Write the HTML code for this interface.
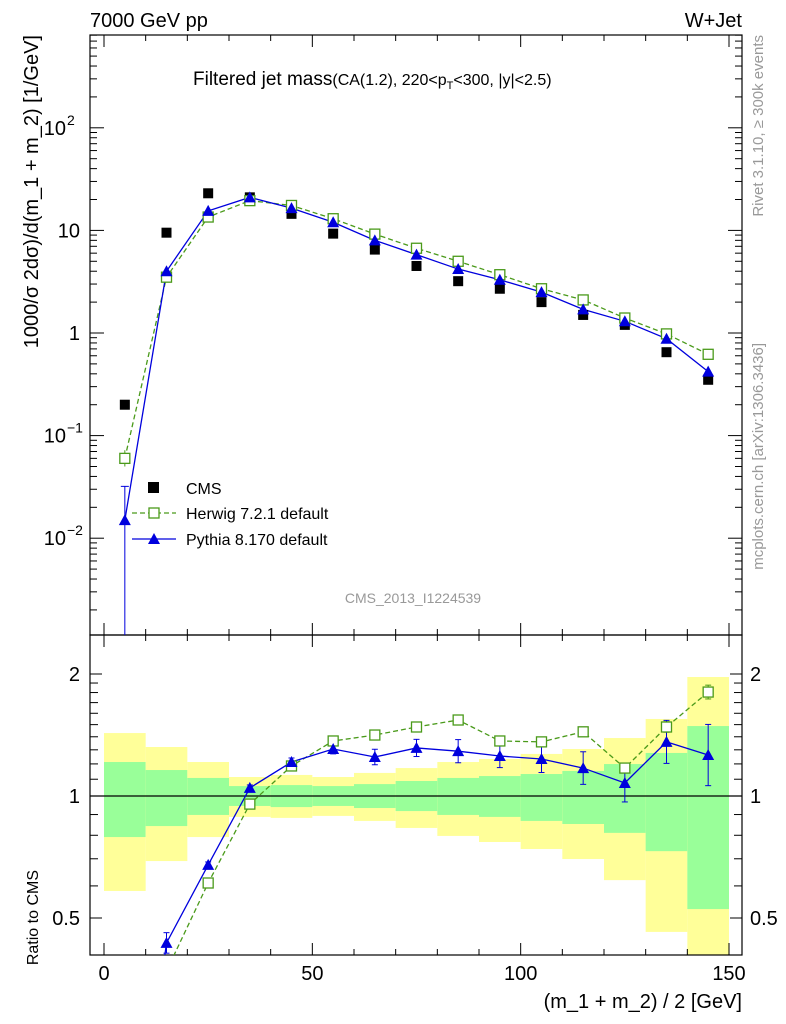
<!DOCTYPE html>
<html><head><meta charset="utf-8"><style>
html,body{margin:0;padding:0;background:#fff;overflow:hidden;width:786px;height:1024px}
svg{display:block}
svg text{font-family:"Liberation Sans",sans-serif}
</style></head><body>
<svg id="c" width="786" height="1024" viewBox="0 0 786 1024"></svg>
<script>
const xs=[5,15,25,35,45,55,65,75,85,95,105,115,125,135,145];
const cms=[0.2,9.5,23,21,14.5,9.3,6.5,4.5,3.2,2.7,2.0,1.5,1.2,0.65,0.35];
const herwig=[0.06,3.5,13.5,19.5,17.5,13,9.2,6.7,5,3.7,2.7,2.1,1.4,0.98,0.62];
const pythia=[0.015,4,15.5,21,16.5,12,8,5.8,4.2,3.3,2.5,1.7,1.3,0.88,0.42];
const herwigRatio=[0.3,0.37,0.61,0.955,1.186,1.367,1.414,1.48,1.54,1.367,1.36,1.44,1.172,1.48,1.805];
const herwigRatioErr=[0,0,0.01,0.01,0.01,0.01,0.01,0.01,0.01,0.01,0.01,0.02,0.02,0.03,0.04];
const pythiaRatio=[0.075,0.434,0.676,1.047,1.213,1.306,1.248,1.314,1.29,1.255,1.234,1.172,1.077,1.36,1.262];
const pythiaRatioErr=[0,0.06,0.017,0.017,0.023,0.028,0.045,0.05,0.068,0.068,0.08,0.097,0.114,0.13,0.19];
const yelHi=[1.43,1.321,1.213,1.114,1.127,1.114,1.14,1.172,1.213,1.234,1.27,1.306,1.39,1.549,1.966];
const yelLo=[0.583,0.691,0.792,0.888,0.883,0.893,0.868,0.834,0.797,0.77,0.74,0.699,0.62,0.462,0.3];
const grnHi=[1.213,1.159,1.108,1.058,1.064,1.058,1.07,1.089,1.108,1.12,1.133,1.153,1.199,1.277,1.488];
const grnLo=[0.792,0.843,0.898,0.945,0.939,0.945,0.934,0.918,0.898,0.888,0.868,0.853,0.811,0.731,0.526];
const xTicks=[0,50,100,150];
const yTicks=[{v:0.01,l:"10",e:"−2"},{v:0.1,l:"10",e:"−1"},{v:1,l:"1"},{v:10,l:"10"},{v:100,l:"10",e:"2"}];
const rTicks=[0.5,1,2];

const S=document.getElementById('c');const NS="http://www.w3.org/2000/svg";
function el(t,a,p){const e=document.createElementNS(NS,t);for(const k in a)e.setAttribute(k,a[k]);(p||S).appendChild(e);return e;}
const L=90,R=742,T=35,M=635,B=955;
const X=v=>104+v*625/150;
const Y=v=>333-Math.log10(v)*102.6;
const YR=v=>796-Math.log2(v)*122;
const cy=(y,a,b)=>Math.max(a,Math.min(b,y));

const gb=el('g',{});
xs.forEach((x,i)=>{
 const r1=el('rect',{x:X(x-5),y:cy(YR(yelHi[i]),M,B),width:X(10)-X(0),height:cy(YR(yelLo[i]),M,B)-cy(YR(yelHi[i]),M,B),fill:'#ffff99'},gb);
 
 const r2=el('rect',{x:X(x-5),y:cy(YR(grnHi[i]),M,B),width:X(10)-X(0),height:cy(YR(grnLo[i]),M,B)-cy(YR(grnHi[i]),M,B),fill:'#99ff99'},gb);
 
});
el('line',{x1:L,x2:R,y1:YR(1),y2:YR(1),stroke:'#000','stroke-width':1.2});

const f1=el('rect',{x:L,y:T,width:R-L,height:M-T,fill:'none',stroke:'#000','stroke-width':1.2});

const f2=el('rect',{x:L,y:M,width:R-L,height:B-M,fill:'none',stroke:'#000','stroke-width':1.2});


for(let v=0;v<=150;v+=10){const big=v%50==0;const h=big?12:6;
 [[T,1],[M,-1],[M,1],[B,-1]].forEach(([y,d])=>el('line',{x1:X(v),x2:X(v),y1:y,y2:y+d*h,stroke:'#000'}));}
xTicks.forEach(v=>{const t=el('text',{x:X(v),y:980,'text-anchor':'middle','font-size':20});t.textContent=v;
 });
for(let e=-3;e<=2;e++)for(let m=1;m<10;m++){const v=m*Math.pow(10,e);const y=Y(v);if(y<T||y>M)continue;const h=m==1?14:7;
 el('line',{x1:L,x2:L+h,y1:y,y2:y,stroke:'#000'});el('line',{x1:R,x2:R-h,y1:y,y2:y,stroke:'#000'});}
yTicks.forEach(o=>{const t=el('text',{x:o.e?66:80,y:Y(o.v)+7,'text-anchor':'end','font-size':20});t.textContent=o.l;
 
 if(o.e){const s=el('text',{x:67,y:Y(o.v)-3,'font-size':14});s.textContent=o.e;}});
[0.5,0.6,0.7,0.8,0.9,1,1.1,1.2,1.3,1.4,1.5,1.6,1.7,1.8,1.9,2].forEach(v=>{const y=YR(v);const h=[0.5,1,2].includes(v)?12:8;
 el('line',{x1:L,x2:L+h,y1:y,y2:y,stroke:'#000'});el('line',{x1:R,x2:R-h,y1:y,y2:y,stroke:'#000'});});
rTicks.forEach(v=>{[[80,'end'],[750,'start']].forEach(([x,a])=>{const t=el('text',{x:x,y:YR(v)+7,'text-anchor':a,'font-size':20});t.textContent=v;
 });});

const cp=el('clipPath',{id:'cm'});el('rect',{x:L,y:T,width:R-L,height:M-T},cp);
const cr=el('clipPath',{id:'cr'});el('rect',{x:L,y:M,width:R-L,height:B-M},cr);

const gm=el('g',{'clip-path':'url(#cm)'});
const gr=el('g',{'clip-path':'url(#cr)'});
function line(g,vals,fy,col,dash,name){const p=el('polyline',{points:xs.map((x,i)=>X(x)+','+fy(vals[i])).join(' '),fill:'none',stroke:col,'stroke-width':1.3,'stroke-dasharray':dash||''},g);
 }
line(gm,herwig,Y,'#4a9a1a','5,3','herwig-line');
line(gm,pythia,Y,'#0000dd','','pythia-line');
el('line',{x1:X(5),x2:X(5),y1:Y(0.032),y2:M,stroke:'#0000dd'},gm);
el('line',{x1:X(5)-4,x2:X(5)+4,y1:Y(0.032),y2:Y(0.032),stroke:'#0000dd'},gm);
el('line',{x1:X(5),x2:X(5),y1:Y(0.072),y2:Y(0.05),stroke:'#4a9a1a'},gm);
function sq(g,x,y,name){const r=el('rect',{x:x-5,y:y-5,width:10,height:10,fill:'#fff',stroke:'#4a9a1a','stroke-width':1.3},g);}
function tri(g,x,y,name){const p=el('polygon',{points:`${x},${y-6} ${x-6},${y+5} ${x+6},${y+5}`,fill:'#0000dd'},g);}
xs.forEach((x,i)=>{
 const r=el('rect',{x:X(x)-5,y:Y(cms[i])-5,width:10,height:10,fill:'#000'},gm);
 sq(gm,X(x),Y(herwig[i]),'herwig-point');tri(gm,X(x),Y(pythia[i]),'pythia-point');
});
line(gr,herwigRatio,YR,'#4a9a1a','5,3','herwig-ratio-line');
line(gr,pythiaRatio,YR,'#0000dd','','pythia-ratio-line');
function ebar(g,x,v,r,col){if(r<=0)return;const y1=YR(v*(1+r)),y2=YR(v/(1+r));
 el('line',{x1:X(x),x2:X(x),y1:y1,y2:y2,stroke:col},g);
 el('line',{x1:X(x)-3,x2:X(x)+3,y1:y1,y2:y1,stroke:col},g);el('line',{x1:X(x)-3,x2:X(x)+3,y1:y2,y2:y2,stroke:col},g);}
xs.forEach((x,i)=>{
 ebar(gr,x,herwigRatio[i],herwigRatioErr[i],'#4a9a1a');
 ebar(gr,x,pythiaRatio[i],pythiaRatioErr[i],'#0000dd');
 sq(gr,X(x),YR(herwigRatio[i]),'herwig-ratio-point');tri(gr,X(x),YR(pythiaRatio[i]),'pythia-ratio-point');
});

const lg=el('g',{});
el('rect',{x:148,y:482,width:11,height:11,fill:'#000'},lg);
let t=el('text',{x:186,y:494,'font-size':16},lg);t.textContent='CMS';
el('line',{x1:132,x2:176,y1:513,y2:513,stroke:'#4a9a1a','stroke-dasharray':'5,3','stroke-width':1.3},lg);sq(lg,154,513,'legend-herwig-marker');
t=el('text',{x:186,y:519,'font-size':16},lg);t.textContent='Herwig 7.2.1 default';
el('line',{x1:132,x2:176,y1:539,y2:539,stroke:'#0000dd','stroke-width':1.3},lg);tri(lg,154,539,'legend-pythia-marker');
t=el('text',{x:186,y:545,'font-size':16},lg);t.textContent='Pythia 8.170 default';

function txt(x,y,s,size,attrs,name){const t=el('text',Object.assign({x:x,y:y,'font-size':size},attrs||{}));t.innerHTML=s;return t;}
txt(90,27,'7000 GeV pp',20,{},'header-left');
txt(742,27,'W+Jet',20,{'text-anchor':'end'},'header-right');
txt(193,85,'Filtered jet mass<tspan font-size="16">(CA(1.2), 220&lt;p</tspan><tspan font-size="11" dy="4">T</tspan><tspan font-size="16" dy="-4">&lt;300, |y|&lt;2.5)</tspan>',19,{},'plot-title');
txt(413,603,'CMS_2013_I1224539',14,{'text-anchor':'middle',fill:'#999'},'analysis-id');
txt(742,1008,'(m_1 + m_2) / 2 [GeV]',20,{'text-anchor':'end'},'x-axis-title');
txt(0,0,'1000/σ 2dσ)/d(m_1 + m_2) [1/GeV]',20,{'text-anchor':'end',transform:'translate(38,35) rotate(-90)'},'y-axis-title');
txt(0,0,'Ratio to CMS',16,{'text-anchor':'end',transform:'translate(38,870) rotate(-90)'},'ratio-axis-title');
txt(0,0,'Rivet 3.1.10, ≥ 300k events',15,{'text-anchor':'end',fill:'#999',transform:'translate(763,35) rotate(-90)'},'rivet-label');
txt(0,0,'mcplots.cern.ch [arXiv:1306.3436]',15,{'text-anchor':'end',fill:'#999',transform:'translate(763,343) rotate(-90)'},'mcplots-label');
</script>
</body></html>
